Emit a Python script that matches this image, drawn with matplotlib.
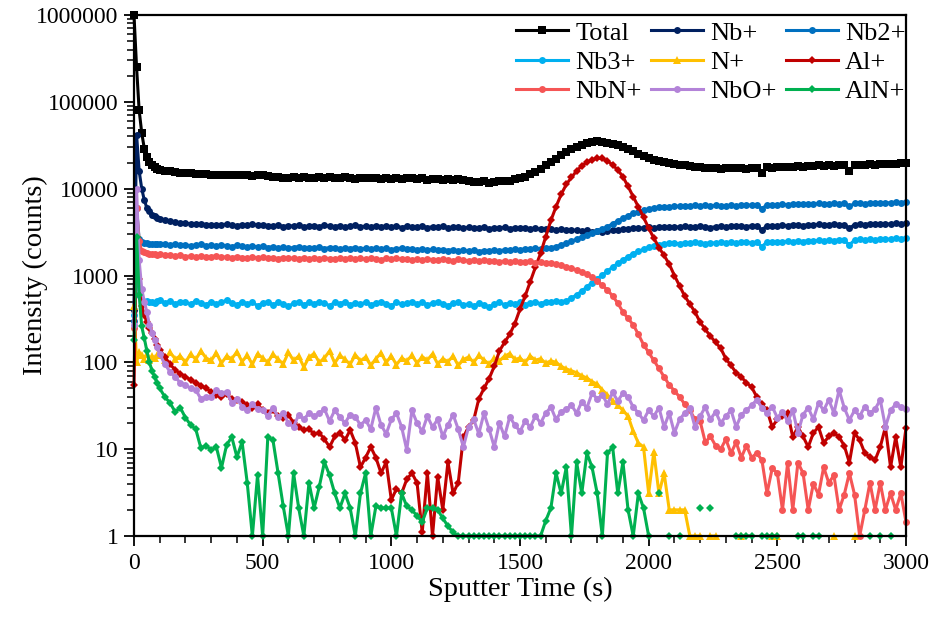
import numpy as np
import matplotlib
matplotlib.use("Agg")
import matplotlib.pyplot as plt
from matplotlib.ticker import FixedLocator, LogLocator, FuncFormatter, MultipleLocator, NullFormatter

nan = np.nan

# sputter time (s)
t_early = [0, 10, 20, 30, 40, 50, 60, 70, 80, 90]
t_main = list(range(100, 3001, 20))
time_s = np.array(t_early + t_main, dtype=float)

series_names = ["Total", "Nb+", "Nb2+", "Nb3+", "N+", "Al+", "NbN+", "NbO+", "AlN+"]

total = [1000000, 250000, 80000, 44000, 29000, 23000, 20500, 18700, 17800, 17000,
    16500, 16000, 15800, 15500, 15300, 15100, 15000, 14800, 14700, 14600,
    14500, 14400, 14500, 14300, 14200, 14400, 14200, 14300, 14100, 14200,
    14300, 14000, 13600, 13800, 13400, 13200, 13600, 13300, 13500, 13400,
    13200, 13600, 13300, 13500, 13100, 13400, 13600, 13200, 13000, 13300,
    13400, 13100, 13200, 12900, 13300, 13000, 13400, 12800, 13100, 13200,
    12900, 13100, 12700, 12900, 13000, 12600, 12800, 12500, 12900, 12700,
    12300, 12000, 11800, 12200, 11600, 11900, 12300, 12100, 12400, 12900,
    13200, 13800, 14600, 15600, 17000, 18800, 20300, 22000, 24200, 26500,
    28500, 30500, 32200, 33500, 34500, 35000, 34800, 34000, 33000, 31500,
    30000, 28500, 27000, 25300, 23800, 22500, 21500, 20800, 20300, 19800,
    19300, 18900, 18500, 18200, 17900, 17700, 17500, 17300, 17200, 17000,
    17200, 17400, 17100, 17300, 17000, 17500, 17200, 15200, 17600, 17400,
    17800, 17600, 18000, 17800, 18200, 18000, 18400, 18100, 18500, 18300,
    18600, 18400, 18800, 18500, 15800, 18700, 18900, 18600, 19000, 18800,
    19200, 19000, 19400, 19300, 19600, 19800]

nb = [400, 42000, 16000, 10000, 7400, 6000, 5500, 5000, 4800, 4600,
    4500, 4300, 4200, 4100, 4050, 4000, 3950, 3900, 3950, 3850,
    3850, 3800, 3850, 3900, 3800, 3750, 3850, 3800, 3900, 3800,
    3850, 3750, 3700, 3800, 3650, 3750, 3700, 3800, 3650, 3700,
    3750, 3650, 3800, 3700, 3650, 3750, 3600, 3700, 3800, 3650,
    3700, 3600, 3750, 3650, 3700, 3600, 3750, 3550, 3700, 3650,
    3600, 3700, 3550, 3650, 3600, 3700, 3550, 3600, 3650, 3500,
    3600, 3550, 3500, 3600, 3450, 3550, 3500, 3600, 3450, 3550,
    3500, 3550, 3450, 3500, 3400, 3450, 3400, 3350, 3400, 3300,
    3350, 3300, 3250, 3300, 3200, 3250, 3200, 3250, 3300, 3350,
    3400, 3450, 3500, 3550, 3500, 3600, 3550, 3600, 3650, 3600,
    3650, 3600, 3700, 3650, 3600, 3700, 3650, 3550, 3650, 3700,
    3650, 3700, 3750, 3700, 3650, 3750, 3700, 3350, 3750, 3700,
    3750, 3800, 3750, 3850, 3800, 3750, 3850, 3800, 3900, 3800,
    3850, 3900, 3850, 3800, 3500, 3850, 3900, 3850, 3950, 3900,
    3900, 3950, 3900, 4000, 3950, 4000]

nb2 = [300, 6000, 2600, 2400, 2350, 2350, 2300, 2300, 2280, 2300,
    2300, 2280, 2250, 2300, 2220, 2260, 2200, 2240, 2280, 2200,
    2230, 2180, 2250, 2200, 2150, 2220, 2180, 2140, 2200, 2120,
    2180, 2100, 2150, 2080, 2120, 2060, 2100, 2150, 2050, 2100,
    2080, 2120, 2040, 2100, 2060, 2000, 2080, 2040, 2100, 2020,
    2060, 2000, 2080, 2020, 2050, 1980, 2040, 2060, 2000, 2030,
    1980, 2020, 1960, 2000, 1950, 1990, 1940, 1980, 1920, 1960,
    1900, 1950, 1880, 1940, 1900, 1960, 1920, 1980, 1950, 2000,
    1980, 2020, 2000, 2050, 2030, 2080, 2080, 2150, 2250, 2350,
    2480, 2620, 2780, 2930, 3100, 3250, 3420, 3650, 3950, 4250,
    4550, 4900, 5200, 5450, 5650, 5850, 5980, 6080, 6150, 6200,
    6250, 6300, 6350, 6300, 6400, 6350, 6450, 6300, 6400, 6350,
    6300, 6400, 6350, 6450, 6400, 6500, 6450, 5900, 6500, 6550,
    6500, 6600, 6550, 6650, 6600, 6700, 6650, 6600, 6750, 6700,
    6650, 6750, 6700, 6800, 6250, 6750, 6800, 6700, 6850, 6800,
    6850, 6900, 6850, 6950, 6900, 7000]

nb3 = [350, 1500, 600, 520, 500, 510, 490, 500, 480, 510,
    520, 480, 510, 470, 500, 490, 470, 510, 480, 460,
    500, 470, 490, 520, 480, 460, 500, 470, 490, 450,
    480, 500, 460, 490, 470, 440, 480, 500, 460, 490,
    470, 500, 480, 450, 490, 470, 500, 460, 480, 470,
    490, 460, 480, 500, 470, 450, 490, 470, 480, 500,
    470, 490, 460, 480, 500, 470, 450, 480, 490, 460,
    470, 440, 480, 460, 430, 470, 490, 460, 480, 470,
    490, 460, 480, 500, 470, 500, 490, 510, 500, 510,
    550, 600, 660, 740, 830, 920, 1010, 1130, 1250, 1380,
    1510, 1650, 1790, 1900, 2000, 2120, 2200, 2270, 2320, 2350,
    2350, 2320, 2380, 2340, 2400, 2360, 2330, 2390, 2350, 2400,
    2380, 2420, 2360, 2400, 2430, 2380, 2420, 2150, 2440, 2400,
    2450, 2420, 2480, 2440, 2500, 2460, 2520, 2480, 2540, 2500,
    2550, 2520, 2580, 2540, 2250, 2560, 2600, 2570, 2620, 2590,
    2620, 2650, 2600, 2680, 2650, 2700]

n_ion = [450, 100, 130, 120, 110, 125, 105, 118, 112, 120,
    120, 105, 130, 110, 118, 100, 125, 108, 135, 112,
    105, 128, 98, 118, 110, 132, 102, 120, 95, 125,
    112, 100, 124, 108, 96, 130, 105, 118, 88, 115,
    126, 100, 112, 135, 98, 120, 108, 95, 122, 104,
    115, 92, 110, 128, 100, 118, 94, 112, 104, 120,
    98, 116, 106, 125, 96, 110, 102, 118, 92, 108,
    115, 100, 120, 106, 96, 112, 104, 118, 126, 108,
    112, 100, 118, 106, 110, 98, 104, 100, 90, 84,
    80, 76, 70, 66, 60, 56, 48, 42, 36, 32,
    28, 24, 16, 11.8, 10.6, 3.1, 9.3, 3.1, 5.3, 2,
    2, 2, 2, 1, 1, 1, nan, 1, 1, nan,
    nan, nan, nan, 1, nan, nan, nan, nan, nan, 1,
    1, nan, nan, nan, nan, nan, nan, nan, nan, nan,
    nan, 1, nan, nan, nan, 1, nan, nan, nan, nan,
    nan, nan, nan, nan, nan, nan]

al = [55, 2800, 900, 450, 350, 290, 250, 215, 185, 160,
    140, 115, 95, 82, 74, 68, 63, 58, 54, 50,
    46, 42, 40, 43, 38, 37, 35, 32, 30, 33,
    28, 26, 28, 24, 23, 25, 20, 18, 16.6, 17,
    15, 15.4, 13, 10.6, 14, 15.4, 12.7, 16.6, 11.8, 6.2,
    8, 10.6, 8, 5.3, 7.1, 2.6, 3.5, 3.1, 4.5, 5.3,
    4.1, 1.1, 5.3, 1, 4.8, 2, 7.1, 3.1, 4.1, 13.8,
    18, 21.6, 38, 50, 65, 90, 135, 170, 210, 280,
    410, 580, 850, 1250, 1800, 2800, 4300, 6200, 8600, 11200,
    13500, 16000, 18300, 20200, 21500, 22400, 22300, 20800, 18800, 16400,
    13700, 10600, 8100, 6200, 4700, 3500, 2700, 2100, 1700, 1350,
    1000, 760, 580, 470, 380, 290, 240, 200, 170, 145,
    110, 92, 76, 68, 58, 52, 40, 33, 28, 18,
    22, 24, 26, 13.8, 18, 14, 10.6, 15.4, 18, 11.8,
    14, 15.4, 13.8, 11, 7, 15.4, 12.7, 9, 8.1, 7.5,
    10.6, 18, 6.2, 13.8, 6.2, 17.5]

nbn = [250, 6000, 2500, 1900, 1850, 1800, 1780, 1760, 1750, 1740,
    1750, 1720, 1700, 1680, 1700, 1650, 1680, 1640, 1670, 1620,
    1650, 1680, 1620, 1640, 1600, 1650, 1610, 1580, 1630, 1600,
    1620, 1580, 1600, 1560, 1610, 1570, 1590, 1550, 1600, 1560,
    1580, 1540, 1600, 1560, 1530, 1580, 1550, 1600, 1540, 1570,
    1530, 1580, 1550, 1520, 1570, 1540, 1590, 1530, 1560, 1510,
    1550, 1500, 1560, 1520, 1490, 1540, 1510, 1480, 1530, 1500,
    1470, 1510, 1460, 1490, 1450, 1480, 1440, 1470, 1430, 1460,
    1440, 1420, 1450, 1400, 1420, 1380, 1390, 1350, 1310, 1260,
    1210, 1160, 1100, 1030, 950, 860, 770, 680, 580, 480,
    380, 320, 270, 210, 160, 130, 105, 85, 68, 55,
    47, 40, 33, 28, 22, 21, 12, 14, 11, 10,
    13, 9, 12, 8, 11, 8, 9, 7.5, 3.1, 6,
    5.3, 2, 6.9, 2, 7, 5.3, 2, 4, 3, 6.2,
    4.1, 5, 2, 3, 5.3, 3, 1, 2, 4.1, 2,
    4.1, 2, 3.1, 2, 3.1, 1.45]

nbo = [270, 10000, 1500, 700, 500, 380, 270, 220, 180, 150,
    125, 95, 78, 68, 58, 55, 50, 48, 38, 40,
    40, 48, 44, 46, 34, 38, 31, 28, 33, 29,
    28, 24, 30, 23.5, 26, 20, 18, 25, 22, 26,
    24, 26, 29, 21, 28, 23.5, 20, 25, 23.5, 19,
    21.6, 17, 30, 19, 15, 22, 26, 18, 9.8, 28,
    20, 16, 24, 18, 22, 14, 19, 25, 17, 10.6,
    18, 22, 15, 26, 17, 10.6, 20, 14, 23.5, 19,
    16, 21, 18, 24, 20, 26, 30.5, 22, 27, 29,
    32, 26, 35, 30, 44, 38, 42, 33, 45, 36,
    44, 40, 30.5, 26, 21.6, 28, 24, 30, 18, 26,
    15.4, 22, 26, 30, 18, 24, 30.5, 22, 27, 20,
    24, 28, 18, 25, 28, 32, 37, 30, 26, 31,
    23, 27, 21, 28, 15.4, 25, 30, 22, 34, 28,
    37, 26, 48, 30, 21.6, 28, 24, 31, 26, 29,
    37, 18, 28, 33, 30.5, 29]

aln = [180, 2800, 600, 260, 190, 135, 100, 80, 68, 58,
    50, 40, 34, 27, 30, 23, 19, 17, 10.3, 11,
    9.8, 10.6, 6.1, 11.2, 13.8, 8.1, 12.1, 4.1, 1, 5,
    1, 13.8, 12.7, 5.3, 2.2, 1, 5.3, 2.1, 1, 4.1,
    2.1, 3.7, 7.1, 5, 3.1, 2.1, 3.1, 2.1, 1, 3.1,
    5.3, 1, 2.2, 2.1, 2.1, 2.1, 1, 3.1, 2.2, 2,
    1.7, 1.45, 2.1, 2.1, 2, 1.6, 1.3, 1.1, 1, 1,
    1, 1, 1, 1, 1, 1, 1, 1, 1, 1,
    1, 1, 1, 1, 1, 1.5, 2.1, 5.3, 3.1, 6.2,
    1, 7.1, 3.1, 9, 6.2, 3.1, 1, 9, 10.6, 3.1,
    7.1, 2, 1, 3.1, 2.1, 1, nan, 3.1, nan, 1,
    nan, 1, nan, nan, nan, 2.1, nan, 2.1, nan, nan,
    nan, nan, 1, 1, 1, 1, nan, 1, 1, 1,
    1, nan, nan, nan, 1, 1, nan, 1, 1, nan,
    nan, nan, nan, nan, nan, nan, nan, nan, 1, nan,
    1, nan, 1, nan, nan, nan]

series_values = [total, nb, nb2, nb3, n_ion, al, nbn, nbo, aln]
colors = ["#000000", "#002060", "#0070C0", "#00B0F0", "#FFC000",
          "#C00000", "#F55555", "#B383D8", "#00B050"]
markers = ["s", "o", "o", "o", "^", "D", "o", "o", "D"]
msizes = [5.2, 5.0, 5.0, 5.0, 5.4, 3.6, 5.0, 5.0, 3.6]

plt.rcParams['font.family'] = ['Liberation Serif', 'DejaVu Serif']
TXT = 20.5
LEG = 19
TICK = 17

fig = plt.figure(figsize=(9.31, 6.18), dpi=100)
ax = fig.add_axes([134/931, 82/618, 772/931, 521/618])

for name, vals, c, m, ms in zip(series_names, series_values, colors, markers, msizes):
    ax.plot(time_s, np.array(vals, dtype=float), color=c, marker=m, markersize=ms,
            linewidth=2.2, label=name, clip_on=False, markeredgewidth=0)

ax.set_yscale('log')
ax.set_ylim(1, 1e6)
ax.set_xlim(0, 3000)
ax.xaxis.set_major_locator(MultipleLocator(500))
ax.xaxis.set_minor_locator(MultipleLocator(100))
ax.yaxis.set_major_locator(FixedLocator([1, 10, 100, 1000, 10000, 100000, 1000000]))
ax.yaxis.set_major_formatter(FuncFormatter(lambda v, p: f"{int(round(v))}"))
ax.yaxis.set_minor_locator(LogLocator(base=10, subs=np.arange(2, 10)))
ax.yaxis.set_minor_formatter(NullFormatter())

ax.tick_params(axis='both', which='major', labelsize=TICK, length=7, width=1.3,
               direction='out', color='black')
ax.tick_params(axis='both', which='minor', length=5, width=1.1, direction='out')
ax.tick_params(axis='x', which='major', pad=5)
ax.tick_params(axis='y', which='major', pad=4)
for sp in ax.spines.values():
    sp.set_linewidth(1.6)
    sp.set_color('black')

ax.set_xlabel("Sputter Time (s)", fontsize=TXT, labelpad=2)
ax.set_ylabel("Intensity (counts)", fontsize=TXT)
ax.yaxis.set_label_coords(-0.112, 0.5)

handles, labels = ax.get_legend_handles_labels()
order = [0, 3, 6, 1, 4, 7, 2, 5, 8]
leg = ax.legend([handles[i] for i in order], [labels[i] for i in order],
                loc='upper right', bbox_to_anchor=(1.007, 1.0), ncol=3, frameon=False,
                fontsize=LEG, handlelength=1.97, handletextpad=0.27, columnspacing=0.35,
                labelspacing=0.22, borderaxespad=0.0, borderpad=0.23)

fig.savefig("out.png", dpi=100)
